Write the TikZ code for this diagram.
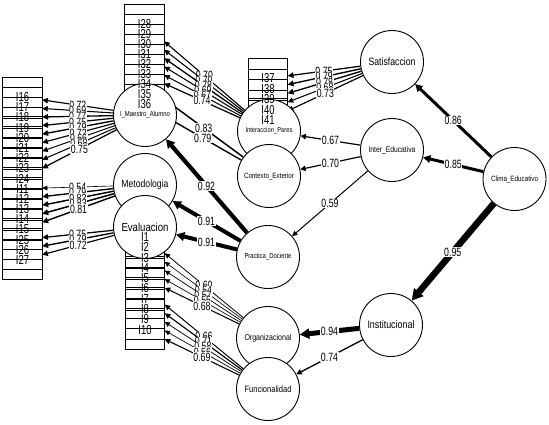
\documentclass[tikz,border=0pt]{standalone}
\usepackage{fontspec}
\setmainfont{Liberation Sans}
\newfontfamily\narrowsf[FakeStretch=0.82]{Liberation Sans}
\newfontfamily\tallsf[FakeStretch=0.73]{Liberation Sans}
\usepackage{graphicx}
\usetikzlibrary{arrows.meta}
\pgfdeclarelayer{back}
\pgfdeclarelayer{front}
\pgfsetlayers{back,main,front}
\newcommand{\lvtext}[2][47pt]{\resizebox{#1}{!}{\narrowsf #2}}

\begin{document}
\begin{tikzpicture}[
  x=1pt, y=-1pt,
  lat/.style={circle, draw, fill=white, line width=0.9pt, minimum size=63pt, inner sep=0pt},
  ind/.style={rectangle, minimum width=39pt, minimum height=39pt, inner sep=0pt,
    font=\tallsf\fontsize{13}{13}\selectfont},
  indbox/.style={draw, line width=0.8pt},
  ld/.style={line width=#1, -{Triangle[length=4.5pt 1, width=4pt 1.2]}},
  reg/.style={line width=#1, -{Triangle[length=4pt 1.1, width=4pt 1.2]}},
  val/.style={fill=white, inner sep=0.5pt, font=\tallsf\fontsize{12}{12}\selectfont}
]
\useasboundingbox (0,0) rectangle (549,424);

\begin{pgfonlayer}{front}
\foreach \n [count=\k from 0] in {I16,I17,I18,I19,I20,I21,I22,I23,I24,I11,I12,I13,I14,I15,I25,I26,I27}
  \node[ind] (\n) at (22.5,{97+10.19*\k}) {\n};
\foreach \n [count=\k from 0] in {I28,I29,I30,I31,I32,I33,I34,I35,I36}
  \node[ind] (\n) at (144.5,{24.5+10*\k}) {\n};
\foreach \n [count=\k from 0] in {I1,I2,I3,I4,I5,I6,I7,I8,I9,I10}
  \node[ind] (\n) at (145,{237+10.3*\k}) {\n};
\foreach \n [count=\k from 0] in {I37,I38,I39,I40,I41}
  \node[ind] (\n) at (268,{78.5+10.4*\k}) {\n};
\end{pgfonlayer}

\begin{pgfonlayer}{back}
\foreach \n in {I1,I2,I3,I4,I5,I6,I7,I8,I9,I10,I11,I12,I13,I14,I15,I16,I17,I18,I19,I20,
    I21,I22,I23,I24,I25,I26,I27,I28,I29,I30,I31,I32,I33,I34,I35,I36,I37,I38,I39,I40,I41}
  \draw[indbox] (\n.north west) rectangle (\n.south east);
\end{pgfonlayer}

\node[lat] (IMA) at (145,115) {\lvtext[50pt]{I\_Maestro\_Alumno}};
\node[lat] (Met) at (145,185) {\lvtext{Metodologia}};
\node[lat] (Eva) at (145,227) {\lvtext{Evaluacion}};
\node[lat] (IP)  at (269,131) {\lvtext{Interaccion\_Pares}};
\node[lat] (CE)  at (269,176) {\lvtext[50pt]{Contexto\_Exterior}};
\node[lat] (PD)  at (268,257) {\lvtext{Practica\_Docente}};
\node[lat] (Org) at (268,338) {\lvtext{Organizacional}};
\node[lat] (Fun) at (268,389) {\lvtext{Funcionalidad}};
\node[lat] (Sat) at (392,62)  {\lvtext{Satisfaccion}};
\node[lat] (IE)  at (392,150) {\lvtext{Inter\_Educativa}};
\node[lat] (Ins) at (391,325) {\lvtext{Institucional}};
\node[lat] (CEd) at (514.5,179) {\lvtext{Clima\_Educativo}};

\begin{pgfonlayer}{back}
\foreach \t/\v [evaluate=\v as \w using {0.5+(\v-0.5)*3}] in
    {I16/0.72,I17/0.69,I18/0.77,I19/0.75,I20/0.79,I21/0.72,I22/0.66,I23/0.68,I24/0.75}
  \draw[ld=\w pt] (IMA) -- node[val] {\v} (\t);
\foreach \t/\v [evaluate=\v as \w using {0.5+(\v-0.5)*3}] in
    {I11/0.54,I12/0.79,I13/0.82,I14/0.83,I15/0.81}
  \draw[ld=\w pt] (Met) -- node[val] {\v} (\t);
\foreach \t/\v [evaluate=\v as \w using {0.5+(\v-0.5)*3}] in {I25/0.75,I26/0.79,I27/0.72}
  \draw[ld=\w pt] (Eva) -- node[val] {\v} (\t);
\foreach \t/\v [evaluate=\v as \w using {0.5+(\v-0.5)*3}] in
    {I28/0.70,I29/0.70,I30/0.78,I31/0.69,I32/0.67,I33/0.74}
  \draw[ld=\w pt] (IP) -- node[val] {\v} (\t);
\foreach \t/\v [evaluate=\v as \w using {0.5+(\v-0.5)*3}] in {I34/0.83,I36/0.79}
  \draw[ld=\w pt] (CE) -- node[val] {\v} (\t);
\foreach \t/\v [evaluate=\v as \w using {0.5+(\v-0.5)*3}] in
    {I37/0.75,I38/0.79,I39/0.78,I40/0.68,I41/0.73}
  \draw[ld=\w pt] (Sat) -- node[val] {\v} (\t);
\foreach \t/\v [evaluate=\v as \w using {0.5+(\v-0.5)*3}] in
    {I1/0.60,I2/0.54,I3/0.57,I4/0.55,I5/0.68}
  \draw[ld=\w pt] (Org) -- node[val] {\v} (\t);
\foreach \t/\v [evaluate=\v as \w using {0.5+(\v-0.5)*3}] in
    {I6/0.66,I7/0.71,I8/0.58,I9/0.56,I10/0.69}
  \draw[ld=\w pt] (Fun) -- node[val] {\v} (\t);

\draw[reg=4.2pt] (PD) -- node[val] {0.92} (IMA);
\draw[reg=4pt] (PD) -- node[val] {0.91} (Met);
\draw[reg=4pt] (PD) -- node[val] {0.91} (Eva);
\draw[reg=1.2pt] (IE) -- node[val] {0.67} (IP);
\draw[reg=1.2pt] (IE) -- node[val] {0.70} (CE);
\draw[reg=1pt] (IE) -- node[val] {0.59} (PD);
\draw[reg=3pt] (CEd) -- node[val] {0.86} (Sat);
\draw[reg=3pt] (CEd) -- node[val] {0.85} (IE);
\draw[reg=6.5pt] (CEd) -- node[val] {0.95} (Ins);
\draw[reg=5pt] (Ins) -- node[val] {0.94} (Org);
\draw[reg=1.3pt] (Ins) -- node[val] {0.74} (Fun);
\end{pgfonlayer}
\end{tikzpicture}
\end{document}
